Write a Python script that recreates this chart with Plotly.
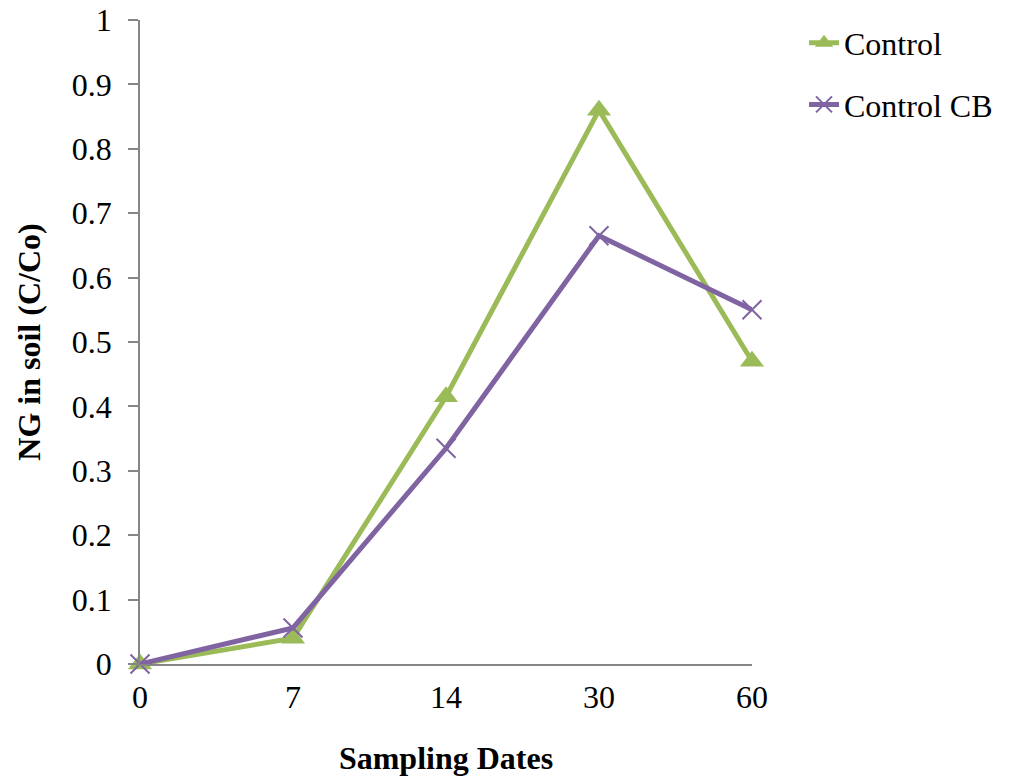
import plotly.graph_objects as go

categories = ["0", "7", "14", "30", "60"]
control = [0.0, 0.04, 0.415, 0.86, 0.47]
control_cb = [0.0, 0.056, 0.335, 0.665, 0.55]

font_family = "Liberation Serif, Times New Roman, serif"
green = "#9BBB59"
purple = "#8064A2"
axis_color = "#868686"

fig = go.Figure()
fig.add_trace(go.Scatter(
    x=categories, y=control, name="Control", mode="lines+markers",
    line=dict(color=green, width=5),
    marker=dict(symbol="triangle-up", size=21, color=green),
    cliponaxis=False, legendgroup="a",
))
fig.add_trace(go.Scatter(
    x=categories, y=control_cb, name="Control CB", mode="lines+markers",
    line=dict(color=purple, width=5),
    marker=dict(symbol="x-thin-open", size=19, color=purple,
                line=dict(color=purple, width=2)),
    cliponaxis=False, legendgroup="b",
))

fig.update_layout(
    width=1013, height=780,
    margin=dict(l=140, r=261, t=20, b=116, autoexpand=False),
    paper_bgcolor="white", plot_bgcolor="white",
    font=dict(family=font_family, size=32, color="black"),
    showlegend=True,
    legend=dict(x=1.085, y=1.007, xanchor="left", yanchor="top",
                font=dict(size=32), tracegroupgap=17,
                bgcolor="rgba(0,0,0,0)"),
    xaxis=dict(
        type="category", range=[0, 4], showgrid=False, zeroline=False,
        showline=True, linecolor=axis_color, linewidth=1.5, automargin=False,
        ticks="", tickfont=dict(size=32), ticklabelstandoff=4,
        title=dict(text="<b>Sampling Dates</b>", font=dict(size=32), standoff=32),
    ),
    yaxis=dict(
        range=[0, 1], dtick=0.1, tick0=0, showgrid=False, zeroline=False,
        showline=True, linecolor=axis_color, linewidth=1.5, automargin=False,
        ticks="outside", ticklen=10, tickcolor=axis_color, tickwidth=1.5,
        tickfont=dict(size=32), ticklabelstandoff=10,
        title=dict(text="<b>NG in soil (C/Co)</b>", font=dict(size=32), standoff=22),
    ),
)

fig.write_html("out.html")
